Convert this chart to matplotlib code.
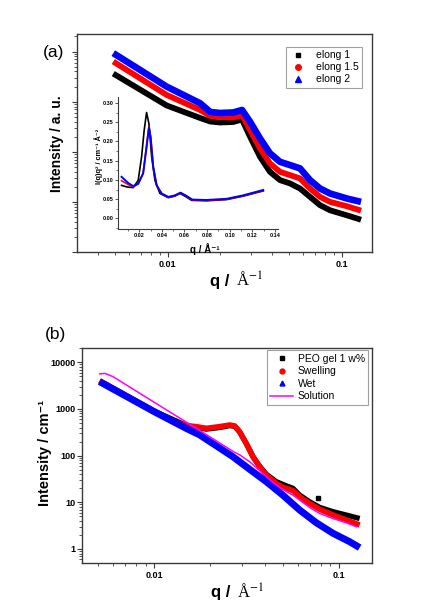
import matplotlib
matplotlib.use("Agg")
import matplotlib.pyplot as plt
from matplotlib.lines import Line2D
from matplotlib.ticker import LogLocator, NullFormatter, MultipleLocator

plt.rcParams['font.family'] = ['Liberation Sans', 'DejaVu Sans']
plt.rcParams['mathtext.fontset'] = 'stix'

# ---------------- Panel (a) data ----------------
q_a = [0.00488, 0.00989, 0.0154, 0.0176, 0.0200, 0.0238, 0.0268, 0.0298, 0.0340,
       0.0388, 0.0443, 0.0506, 0.0577, 0.0659, 0.0752, 0.0859, 0.1072, 0.1294]
I_elong1 = [3630, 839, 472, 402, 384, 393, 441, 200, 79.4,
            39.8, 27.2, 23.3, 18.5, 12.6, 8.6, 6.8, 5.4, 4.4]
I_elong15 = [6310, 1361, 682, 518, 494, 483, 542, 272, 117,
             58.6, 39.8, 34.2, 29.4, 18.5, 12.6, 10.0, 8.2, 6.7]
I_elong2 = [9290, 1995, 929, 622, 594, 608, 682, 398, 185,
            93, 63, 54.2, 46.6, 27.2, 18.5, 14.7, 11.7, 10.0]
labels_a = ['elong 1', 'elong 1.5', 'elong 2']

# inset (Kratky-like) data
qin_black = [0.0044, 0.0088, 0.0147, 0.0191, 0.0221, 0.0244, 0.0265, 0.0286, 0.0310, 0.0339,
             0.0383, 0.0457, 0.0516, 0.0560, 0.0604, 0.0664, 0.0796, 0.0973, 0.1120, 0.1297]
yin_black = [0.086, 0.082, 0.080, 0.099, 0.160, 0.229, 0.275, 0.246, 0.160, 0.099,
             0.065, 0.054, 0.058, 0.065, 0.058, 0.047, 0.046, 0.049, 0.058, 0.0715]
qin_col = [0.0044, 0.0103, 0.0147, 0.0191, 0.0235, 0.0265, 0.0286, 0.0301, 0.0324, 0.0354,
           0.0398, 0.0457, 0.0516, 0.0565, 0.0610, 0.0670, 0.0796, 0.0973, 0.1120, 0.1297]
yin_red = [0.098, 0.088, 0.082, 0.090, 0.118, 0.190, 0.238, 0.212, 0.134, 0.086,
           0.064, 0.055, 0.059, 0.066, 0.059, 0.048, 0.047, 0.050, 0.059, 0.073]
yin_blue = [0.108, 0.092, 0.084, 0.090, 0.117, 0.185, 0.236, 0.211, 0.134, 0.086,
            0.065, 0.056, 0.060, 0.067, 0.060, 0.049, 0.048, 0.051, 0.060, 0.074]

# ---------------- Panel (b) data ----------------
q_gel = [0.00508, 0.0100, 0.0150, 0.0169, 0.0192, 0.0226, 0.0257, 0.0273, 0.0290, 0.0315,
         0.0343, 0.0372, 0.0405, 0.0458, 0.0519, 0.0564, 0.0613, 0.0693, 0.0786, 0.0929,
         0.1094, 0.1295]
I_gel = [4000, 900, 440, 400, 370, 400, 440, 425, 327, 184,
         95, 60, 40, 27.7, 22.6, 20, 14.3, 10.3, 7.8, 6.3,
         5.35, 4.5]
q_gel_out = [0.0770]
I_gel_out = [12.2]
q_sw = [0.00508, 0.0100, 0.0133, 0.0150, 0.0169, 0.0192, 0.0226, 0.0257, 0.0273, 0.0290,
        0.0315, 0.0343, 0.0372, 0.0405, 0.0458, 0.0497, 0.0564, 0.0613, 0.0693, 0.0786,
        0.0929, 0.1094, 0.1295]
I_sw = [4000, 900, 500, 440, 418, 385, 418, 454, 433, 327,
        184, 95, 58, 38.5, 25.5, 21, 17.8, 13.2, 9.5, 7.1,
        5.35, 4.2, 3.27]
q_wet = [0.00508, 0.0100, 0.0150, 0.0177, 0.0267, 0.0329, 0.0405, 0.0497, 0.0613,
         0.0754, 0.0929, 0.114, 0.1295]
I_wet = [3850, 880, 380, 277, 95, 51, 27.7, 14.3, 6.85,
         3.66, 2.17, 1.44, 1.07]
q_sol = [0.00508, 0.00543, 0.0060, 0.0100, 0.0177, 0.0267, 0.0292, 0.0329, 0.0405, 0.0458,
         0.0519, 0.0564, 0.0613, 0.0693, 0.0786, 0.0929, 0.1094, 0.1241]
I_sol = [5650, 5780, 4930, 1400, 345, 124, 103, 74, 35.5, 23.5,
         17, 14.3, 11.2, 7.8, 5.8, 4.5, 3.66, 3.0]
labels_b = ['PEO gel 1 w%', 'Swelling', 'Wet', 'Solution']
yticks_b = [1, 10, 100, 1000, 10000]
xticks = [0.01, 0.1]

W, H = 432, 613
fig = plt.figure(figsize=(W / 100, H / 100), dpi=100)

def fx(px):
    return px / W

def fy(py):
    return 1 - py / H

frame_col = '#3a3a3a'

def style_log_axes(ax):
    for s in ax.spines.values():
        s.set_color(frame_col)
        s.set_linewidth(1.0)
    ax.tick_params(which='both', direction='out', top=False, right=False, color=frame_col)
    ax.tick_params(which='major', length=3.5, width=0.8)
    ax.tick_params(which='minor', length=2, width=0.6)
    ax.set_xticks(xticks)
    ax.set_xticklabels(['0.01', '0.1'], fontsize=6.5, fontweight='bold')
    ax.xaxis.set_minor_locator(LogLocator(base=10, subs=range(2, 10), numticks=20))
    ax.xaxis.set_minor_formatter(NullFormatter())
    ax.yaxis.set_minor_locator(LogLocator(base=10, subs=range(2, 10), numticks=20))
    ax.yaxis.set_minor_formatter(NullFormatter())

lkw = dict(solid_capstyle='butt', solid_joinstyle='round')

# ---------------- Panel (a) ----------------
axa = fig.add_axes([fx(77), fy(252), fx(372) - fx(77), fy(34) - fy(252)])
axa.set_xscale('log')
axa.set_yscale('log')
axa.set_xlim(0.00302, 0.1496)
axa.set_ylim(1, 10 ** 4.35)
axa.plot(q_a, I_elong1, color='black', lw=4.2, zorder=2, **lkw)
axa.plot(q_a, I_elong15, color='#ff0000', lw=4.2, zorder=3, **lkw)
axa.plot(q_a, I_elong2, color='#0000ff', lw=4.8, zorder=4, **lkw)
style_log_axes(axa)
axa.set_yticks([1, 10, 100, 1000, 10000])
axa.set_yticklabels([])
axa.tick_params(axis='x', pad=2)

handles_a = [Line2D([], [], ls='none', marker='s', color='black', markersize=3.5),
             Line2D([], [], ls='none', marker='o', color='#ff0000', markersize=4),
             Line2D([], [], ls='none', marker='^', color='#0000ff', markersize=4)]
leg_a = axa.legend(handles_a, labels_a, loc='upper right', bbox_to_anchor=(fx(362), fy(46.5)),
                   bbox_transform=fig.transFigure, fontsize=7.5, frameon=True, fancybox=False,
                   edgecolor='#888888', borderpad=0.35, labelspacing=0.2, handlelength=1.6,
                   handletextpad=0.9, borderaxespad=0)
leg_a.get_frame().set_linewidth(0.8)

fig.text(fx(57), fy(144), 'Intensity / a. u.', rotation=90, ha='center', va='center',
         fontsize=10, fontweight='bold')
fig.text(fx(229), fy(281), 'q /', ha='right', va='center', fontsize=12, fontweight='bold')
fig.text(fx(236), fy(281), 'Å$^{-1}$', ha='left', va='center', fontsize=12,
         family='Liberation Serif')
fig.text(fx(43), fy(52), '(a)', ha='left', va='center', fontsize=12.5)

# inset
axi = fig.add_axes([fx(118.3), fy(228.5), fx(277.7) - fx(118.3), fy(96.7) - fy(228.5)])
axi.patch.set_alpha(0)
axi.plot(qin_black, yin_black, color='black', lw=1.2, zorder=2)
axi.plot(qin_col, yin_red, color='#ff0000', lw=1.2, zorder=3)
axi.plot(qin_col, yin_blue, color='#0000ff', lw=1.4, zorder=4)
axi.set_xlim(0.0015, 0.1425)
axi.set_ylim(-0.026, 0.316)
axi.spines['top'].set_visible(False)
axi.spines['right'].set_visible(False)
for s in ['left', 'bottom']:
    axi.spines[s].set_color(frame_col)
    axi.spines[s].set_linewidth(0.8)
axi.set_xticks([0.02, 0.04, 0.06, 0.08, 0.10, 0.12, 0.14])
axi.set_xticklabels(['0.02', '0.04', '0.06', '0.08', '0.10', '0.12', '0.14'], fontsize=4, fontweight='bold')
axi.set_yticks([0.0, 0.05, 0.10, 0.15, 0.20, 0.25, 0.30])
axi.set_yticklabels(['0.00', '0.05', '0.10', '0.15', '0.20', '0.25', '0.30'], fontsize=4, fontweight='bold')
axi.xaxis.set_minor_locator(MultipleLocator(0.01))
axi.yaxis.set_minor_locator(MultipleLocator(0.025))
axi.tick_params(which='major', direction='out', length=2, width=0.6, pad=1.2, color=frame_col)
axi.tick_params(which='minor', direction='out', length=1.2, width=0.5, color=frame_col)
fig.text(fx(98.5), fy(156), 'I(q)q² / cm⁻¹ Å⁻²', rotation=90, ha='center', va='center',
         fontsize=5.3, fontweight='bold')
fig.text(fx(205), fy(249), 'q / Å⁻¹', ha='center', va='center', fontsize=7, fontweight='bold')

# ---------------- Panel (b) ----------------
axb = fig.add_axes([fx(82), fy(563), fx(372) - fx(82), fy(348) - fy(563)])
axb.set_xscale('log')
axb.set_yscale('log')
axb.set_xlim(0.00408, 0.151)
axb.set_ylim(10 ** -0.3, 10 ** 4.306)
axb.plot(q_gel, I_gel, color='black', lw=3.8, zorder=2, **lkw)
axb.plot(q_gel_out, I_gel_out, ls='none', marker='s', color='black', markersize=2.2, zorder=2)
axb.plot(q_sw, I_sw, color='#ff0000', lw=4.0, zorder=3, **lkw)
axb.plot(q_wet, I_wet, color='#0000ff', lw=5.0, zorder=4, **lkw)
axb.plot(q_sol, I_sol, color='#ff00ff', lw=1.1, zorder=5)
style_log_axes(axb)
axb.set_yticks(yticks_b)
axb.set_yticklabels([str(v) for v in yticks_b], fontsize=6.5, fontweight='bold')
axb.tick_params(axis='x', pad=2)
axb.tick_params(axis='y', pad=1.5)

handles_b = [Line2D([], [], ls='none', marker='s', color='black', markersize=2.5),
             Line2D([], [], ls='none', marker='o', color='#ff0000', markersize=3.5),
             Line2D([], [], ls='none', marker='^', color='#0000ff', markersize=3.5),
             Line2D([], [], color='#ff00ff', lw=1.1)]
leg_b = axb.legend(handles_b, labels_b, loc='upper right', bbox_to_anchor=(fx(368.3), fy(350)),
                   bbox_transform=fig.transFigure, fontsize=7.5, frameon=True, fancybox=False,
                   edgecolor='#888888', borderpad=0.35, labelspacing=0.25, handlelength=2.2,
                   handletextpad=0.4, borderaxespad=0)
leg_b.get_frame().set_linewidth(0.8)

fig.text(fx(45), fy(453), 'Intensity / cm⁻¹', rotation=90, ha='center', va='center',
         fontsize=10.5, fontweight='bold')
fig.text(fx(230), fy(593), 'q /', ha='right', va='center', fontsize=12, fontweight='bold')
fig.text(fx(237), fy(593), 'Å$^{-1}$', ha='left', va='center', fontsize=12,
         family='Liberation Serif')
fig.text(fx(45), fy(335), '(b)', ha='left', va='center', fontsize=12.5)

fig.savefig('out.png', dpi=100)
